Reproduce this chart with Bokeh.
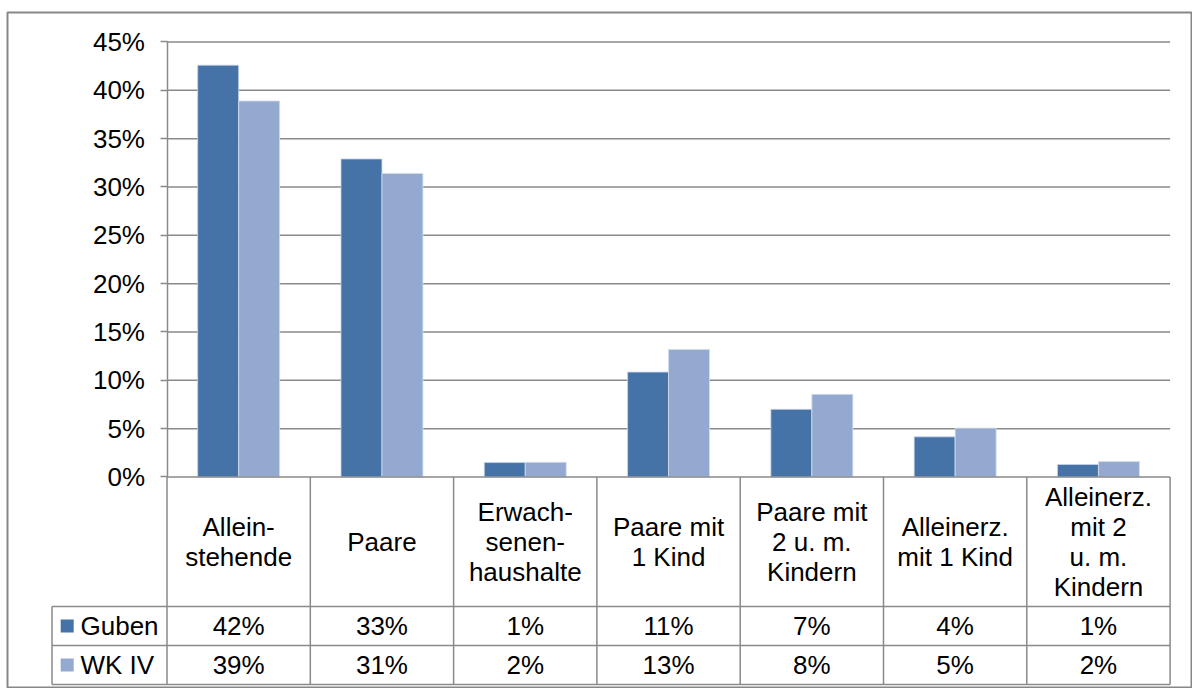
from bokeh.plotting import figure
from bokeh.models import Range1d, FixedTicker, PrintfTickFormatter, ColumnDataSource
from bokeh.core.properties import value
from bokeh.embed import file_html
from bokeh.resources import INLINE

# ---------------- data ----------------
categories = ["Allein-\nstehende", "Paare", "Erwach-\nsenen-\nhaushalte",
              "Paare mit\n1 Kind", "Paare mit\n2 u. m.\nKindern",
              "Alleinerz.\nmit 1 Kind", "Alleinerz.\nmit 2\nu. m.\nKindern"]
series_names = ["Guben", "WK IV"]
guben = [42.6, 32.9, 1.49, 10.85, 7.0, 4.15, 1.3]
wk4 = [38.9, 31.4, 1.52, 13.2, 8.55, 5.05, 1.6]
guben_labels = ["42%", "33%", "1%", "11%", "7%", "4%", "1%"]
wk4_labels = ["39%", "31%", "2%", "13%", "8%", "5%", "2%"]
y_ticks = [0, 5, 10, 15, 20, 25, 30, 35, 40, 45]

# ---------------- style ----------------
FONT = value("Liberation Sans")
FS = value("26px")
C_GUBEN = "#4572A7"
C_WK = "#94A9D0"
GRID = "#8A8A8A"
BAR_W = 0.286

# layout (data coords): categories span [i, i+1]; y in percent
X0, X1 = -1.1131, 7.1563
Y0, Y1 = -21.88, 48.05
HEAD_BOTTOM = -13.40
ROW_SPLIT = -17.43
TABLE_BOTTOM = -21.47
LEGEND_LEFT = -0.8025

n = len(categories)
p = figure(width=1192, height=688, output_backend="svg", toolbar_location=None,
           x_range=Range1d(X0, X1), y_range=Range1d(Y0, Y1),
           min_border=0, min_border_top=12, min_border_left=7)
p.background_fill_color = "white"
p.border_fill_color = "white"
p.outline_line_color = "#878787"
p.outline_line_width = 2
p.xgrid.visible = False
p.ygrid.visible = False
p.xaxis.visible = False

ax = p.yaxis[0]
ax.fixed_location = 0
ax.bounds = (0, 45)
ax.ticker = FixedTicker(ticks=y_ticks)
ax.formatter = PrintfTickFormatter(format="%d%%")
ax.major_tick_in = 0
ax.major_tick_out = 7
ax.minor_tick_in = 0
ax.minor_tick_out = 0
ax.axis_line_color = GRID
ax.axis_line_width = 1.5
ax.major_tick_line_color = GRID
ax.major_tick_line_width = 1.5
ax.major_label_text_font = "Liberation Sans"
ax.major_label_text_font_size = "26px"
ax.major_label_text_color = "black"
ax.major_label_standoff = 15

# gridlines from tick values
gt = y_ticks[1:]
p.segment(x0=[0] * len(gt), x1=[n] * len(gt), y0=gt, y1=gt,
          line_color=GRID, line_width=1.5)

# bars
centers = [i + 0.5 for i in range(n)]
src = ColumnDataSource(dict(
    xg=[c - BAR_W / 2 for c in centers], xw=[c + BAR_W / 2 for c in centers],
    guben=guben, wk4=wk4))
p.vbar(x="xg", top="guben", bottom=0, width=BAR_W, source=src,
       fill_color=C_GUBEN, line_color="#c9d5e8", line_width=0.8)
p.vbar(x="xw", top="wk4", bottom=0, width=BAR_W, source=src,
       fill_color=C_WK, line_color="#d5deee", line_width=0.8)

# table lines
hl_y = [0, HEAD_BOTTOM, ROW_SPLIT, TABLE_BOTTOM]
hl_x0 = [0, LEGEND_LEFT, LEGEND_LEFT, LEGEND_LEFT]
p.segment(x0=hl_x0, x1=[n] * 4, y0=hl_y, y1=hl_y, line_color=GRID, line_width=1.5)
vx = list(range(n + 1))
p.segment(x0=vx, x1=vx, y0=[0] * len(vx), y1=[TABLE_BOTTOM] * len(vx),
          line_color=GRID, line_width=1.5)
p.segment(x0=[LEGEND_LEFT], x1=[LEGEND_LEFT], y0=[HEAD_BOTTOM], y1=[TABLE_BOTTOM],
          line_color=GRID, line_width=1.5)

# category labels
p.text(x=centers, y=[HEAD_BOTTOM / 2] * n, text=categories,
       text_font=FONT, text_font_size=FS, text_color="black",
       text_align="center", text_baseline="middle", text_line_height=1.0)

# data rows
row1 = (HEAD_BOTTOM + ROW_SPLIT) / 2
row2 = (ROW_SPLIT + TABLE_BOTTOM) / 2
p.text(x=centers, y=[row1] * n, text=guben_labels, text_font=FONT, text_font_size=FS,
       text_color="black", text_align="center", text_baseline="middle")
p.text(x=centers, y=[row2] * n, text=wk4_labels, text_font=FONT, text_font_size=FS,
       text_color="black", text_align="center", text_baseline="middle")

# legend keys in table
p.scatter(x=[-0.6965, -0.6965], y=[row1, row2], marker="square", size=13,
          fill_color=[C_GUBEN, C_WK], line_color=None)
p.text(x=[-0.6036, -0.6036], y=[row1, row2], text=series_names, text_font=FONT,
       text_font_size=FS, text_color="black", text_align="left", text_baseline="middle")

open("out.html", "w").write(file_html(p, INLINE))
